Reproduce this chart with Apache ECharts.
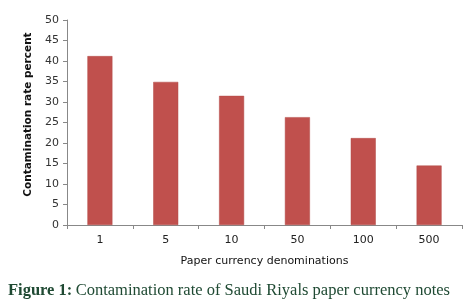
<!DOCTYPE html>
<html><head><meta charset="utf-8">
<script src="https://cdn.jsdelivr.net/npm/echarts@6/dist/echarts.min.js"></script>
<style>html,body{margin:0;padding:0;background:#fff}#c{width:472px;height:308px}</style>
</head><body><div id="c"></div>
<script>
const categories = ['1','5','10','50','100','500'];
const values = [41.2, 34.9, 31.5, 26.3, 21.2, 14.5];
const yTicks = [0,5,10,15,20,25,30,35,40,45,50];
const yTitle = 'Contamination rate percent';
const xTitle = 'Paper currency denominations';
const caption = 'Contamination rate of Saudi Riyals paper currency notes';

const chart = echarts.init(document.getElementById('c'), null, {renderer:'canvas'});
chart.setOption({
  animation:false,
  backgroundColor:'#fff',
  grid:{left:67,right:10,top:20,bottom:83,containLabel:false},
  xAxis:{
    type:'category', data:categories,
    axisLine:{lineStyle:{color:'#888',width:1}},
    axisTick:{show:true,alignWithLabel:false,length:4,lineStyle:{color:'#888'}},
    axisLabel:{color:'#222',fontSize:11,fontFamily:'DejaVu Sans',margin:10},
    name:xTitle, nameLocation:'middle', nameGap:31,
    nameTextStyle:{color:'#111',fontSize:11,fontFamily:'DejaVu Sans'}
  },
  yAxis:{
    type:'value', min:yTicks[0], max:yTicks[yTicks.length-1], interval:5,
    axisLine:{show:true,lineStyle:{color:'#888',width:1}},
    axisTick:{show:true,length:4,lineStyle:{color:'#888'}},
    splitLine:{show:false},
    axisLabel:{color:'#333',fontSize:11,fontFamily:'DejaVu Sans',margin:8},
    name:yTitle, nameLocation:'middle', nameGap:33, nameRotate:90,
    nameTextStyle:{color:'#111',fontSize:10.5,fontWeight:'bold',fontFamily:'DejaVu Sans',padding:[0,0,0,16]}
  },
  series:[{
    type:'bar', data:values, barWidth:25,
    itemStyle:{color:'#c0504d',borderColor:'#b24a47',borderWidth:0.5}
  }],
  graphic:[{
    type:'text', left:8, top:282,
    style:{
      rich:{
        b:{fontFamily:'Liberation Serif',fontWeight:'bold',fontSize:16.5,fill:'#1f4a33'},
        n:{fontFamily:'Liberation Serif',fontSize:16.5,fill:'#1f4a33'}
      },
      text:'{b|Figure 1:} {n|'+caption+'}'
    }
  }]
});
</script></body></html>
